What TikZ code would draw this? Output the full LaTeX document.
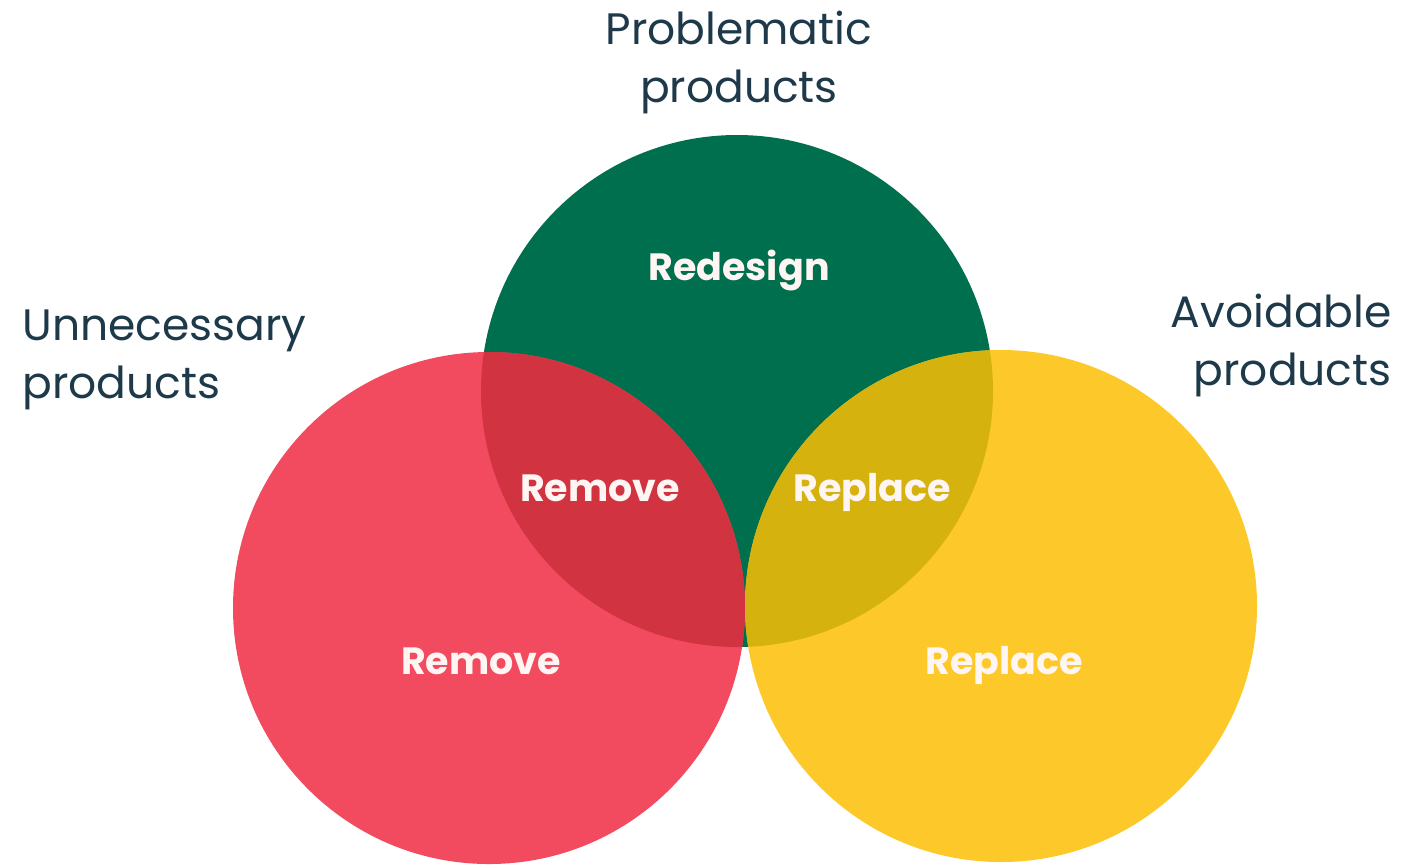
\documentclass[tikz,border=0pt]{standalone}
\usepackage{fontspec}
\setmainfont{Poppins}
\usetikzlibrary{positioning}
\definecolor{ink}{HTML}{1E3A4A}
\definecolor{setgreen}{HTML}{006F4E}
\definecolor{setred}{HTML}{F24A5F}
\definecolor{setyellow}{HTML}{FCC82A}
\definecolor{redgreen}{HTML}{D13341}
\definecolor{yellowgreen}{HTML}{D6B20F}
\definecolor{paper}{HTML}{FFF6F4}

\begin{document}
\begin{tikzpicture}[x=0.5pt, y=-0.5pt,
  set/.style={circle, minimum size=256pt, inner sep=0pt},
  zone/.style={text=paper, anchor=base, inner sep=0pt, font=\fontsize{19}{23}\selectfont\bfseries},
  heading/.style={text=ink, inner sep=0pt, font=\fontsize{22}{29}\selectfont}]
\useasboundingbox (0,0) rectangle (1401,864);

% the three sets
\node[set, fill=setgreen] (G) at (737,391) {};
\node[set, fill=setred] (R) at (489,608) {};
\node[set, fill=setyellow] (Y) at (1001,606) {};

% overlaps
\begin{scope}
\clip (737,391) circle[radius=256];
\fill[redgreen] (489,608) circle[radius=256];
\fill[yellowgreen] (1001,606) circle[radius=256];
\end{scope}

% labels inside
\node[zone] (G1) at (739,280) {Redesign};
\node[zone] (RG) at (600,501) {Remove};
\node[zone] (YG) at (872,501) {Replace};
\node[zone] (R1) at (481,674) {Remove};
\node[zone] (Y1) at (1004,674) {Replace};

% headings
\node[heading, align=center] (Gt) at (739,62) {Problematic\\products};
\node[heading, align=left, anchor=west] (Rt) at (22,360) {Unnecessary\\products};
\node[heading, align=right, anchor=east] (Yt) at (1392,345) {Avoidable\\products};
\end{tikzpicture}
\end{document}
